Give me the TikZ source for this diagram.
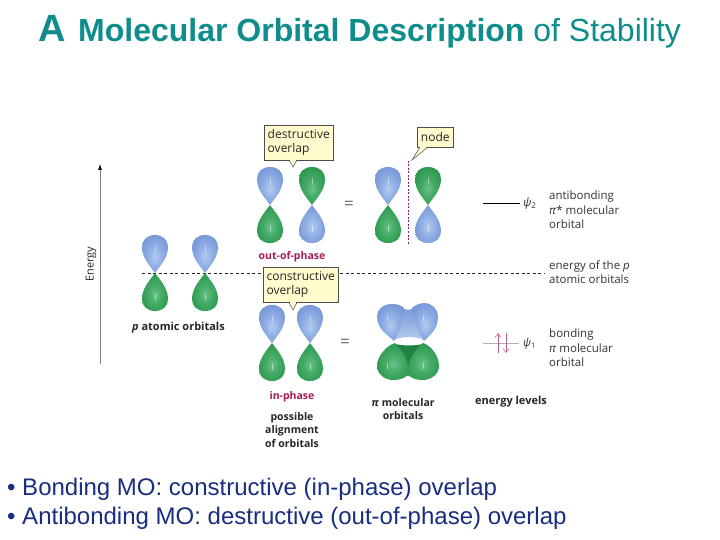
\documentclass[tikz,border=0pt]{standalone}
\usepackage{fontspec}
\setmainfont{Liberation Sans}
\newfontfamily\lab{Open Sans}
\usetikzlibrary{arrows.meta}
\definecolor{titleteal}{HTML}{0F8C8C}
\definecolor{navy}{HTML}{1A2E80}
\definecolor{maroon}{HTML}{A51C55}
\definecolor{calloutfill}{HTML}{FFFBCC}
\definecolor{bu0}{HTML}{B4CBEF}
\definecolor{bu1}{HTML}{94B2E6}
\definecolor{bu2}{HTML}{7B9BDA}
\definecolor{bu3}{HTML}{6C8ACB}
\definecolor{gr0}{HTML}{6CC28A}
\definecolor{gr1}{HTML}{45AC68}
\definecolor{gr2}{HTML}{2F9A52}
\definecolor{gr3}{HTML}{1F8040}
\pgfdeclareradialshading{bluelobe}{\pgfpoint{0bp}{-4bp}}{
 color(0bp)=(bu0); color(12bp)=(bu1); color(26bp)=(bu2); color(40bp)=(bu3); color(50bp)=(bu3)}
\pgfdeclareradialshading{greenlobe}{\pgfpoint{0bp}{-4bp}}{
 color(0bp)=(gr0); color(12bp)=(gr1); color(26bp)=(gr2); color(40bp)=(gr3); color(50bp)=(gr3)}
\tikzset{
 lbl/.style={font=\lab\fontsize{11.5}{14.5}\selectfont,align=left,text=black!80,inner sep=0pt},
 lblb/.style={font=\lab\fontsize{10.5}{13.2}\selectfont\bfseries,align=center,text=black!85,inner sep=0pt},
 callout/.style={draw=black!70,fill=calloutfill,font=\lab\fontsize{12}{14}\selectfont,align=left,inner sep=2.5pt,line width=.5pt,text=black!85},
 maroonl/.style={font=\lab\fontsize{10.5}{13}\selectfont\bfseries,text=maroon,inner sep=0pt},
 dashline/.style={dash pattern=on 3pt off 2.5pt,line width=.7pt,black!85},
 eqs/.style={inner sep=0pt,font=\lab\fontsize{17}{17}\selectfont,text=black!60},
 glint/.style={white,opacity=.45,line width=.8pt,line cap=round}
}
\newcommand\lobepth{(0,0) .. controls (-5,-7) and (-13,-15) .. (-13,-26) .. controls (-13,-33) and (-8,-38) .. (0,-38) .. controls (8,-38) and (13,-33) .. (13,-26) .. controls (13,-15) and (5,-7) .. (0,0) -- cycle}
% \lobe{x}{y}{scale}{shading}
\newcommand\lobe[4]{\begin{scope}[shift={(#1,#2)},yscale=#3]\shade[shading=#4] \lobepth;
\draw[glint] (0,-27) -- (0,-21);\end{scope}}
\begin{document}
\begin{tikzpicture}[x=1pt,y=-1pt]
\useasboundingbox (0,0) rectangle (720,540);
\fill[white] (0,0) rectangle (720,540);
% title
\node[anchor=base west,inner sep=0pt,text=titleteal] (title) at (38.5,42) {\fontsize{38}{42}\selectfont\bfseries A};
\node[anchor=base west,inner sep=0pt,text=titleteal] (title2) at (78,42) {\fontsize{32}{36}\selectfont\bfseries Molecular Orbital Description \mdseries of Stability};
% energy axis
\coordinate (ax0) at (100,364);
\coordinate (ax1) at (100,164);
\draw[black!50,line width=.6pt,-{Latex[black,length=6pt,width=4pt]}] (ax0) -- (ax1);
\node[rotate=90,font=\lab\fontsize{11}{12}\selectfont,text=black!85,inner sep=0pt] (energy) at (91,264) {Energy};
% dashed
\coordinate (d0) at (142,273.5);
\coordinate (d1) at (545,273.5);
\draw[dashline] (d0) -- (d1);
% atomic
\lobe{155}{273}{1}{bluelobe}\lobe{155}{273}{-1}{greenlobe}
\lobe{205}{273}{1}{bluelobe}\lobe{205}{273}{-1}{greenlobe}
\node[lblb,font=\lab\fontsize{11}{13}\selectfont\bfseries] (pao) at (178.5,328) {\textit{p} atomic orbitals};
% destructive
\lobe{270}{205}{1}{bluelobe}\lobe{270}{205}{-1}{greenlobe}
\lobe{312}{205}{1}{greenlobe}\lobe{312}{205}{-1}{bluelobe}
\lobe{388}{205}{1}{bluelobe}\lobe{388}{205}{-1}{greenlobe}
\lobe{428}{205}{1}{greenlobe}\lobe{428}{205}{-1}{bluelobe}
% node line
\coordinate (n0) at (408,161);
\coordinate (n1) at (408,244);
\draw[maroon,dash pattern=on 2pt off 1.5pt,line width=.7pt] (n0) -- (n1);
% callouts
\node[callout,anchor=north west,minimum width=69pt,minimum height=35pt] (dc) at (264,125) {destructive\\overlap};
\fill[calloutfill] (289,158) -- (293,167) -- (297,158) -- cycle;
\draw[black!70,line width=.5pt] (289,160) -- (293,167) -- (297,160);
\node[callout,anchor=north west,minimum width=36pt,minimum height=20pt,inner sep=1pt] (nc) at (417,127) {node};
\fill[calloutfill] (420,146) -- (412,160) -- (428,146) -- cycle;
\draw[black!70,line width=.5pt] (420,147) -- (412,160) -- (428,147);
\node[maroonl] (oop) at (292,257) {out-of-phase};
% equals
\node[eqs] (eq1) at (349,205) {=};
\node[eqs] (eq2) at (345,343.5) {=};
% constructive
\lobe{272}{343}{1}{bluelobe}\lobe{272}{343}{-1}{greenlobe}
\lobe{310}{343}{1}{bluelobe}\lobe{310}{343}{-1}{greenlobe}
\node[callout,anchor=north west,minimum width=75pt,minimum height=35pt] (cc) at (263,267) {constructive\\overlap};
\fill[calloutfill] (289,300) -- (293,310) -- (297,300) -- cycle;
\draw[black!70,line width=.5pt] (289,302.5) -- (293,310) -- (297,302.5);
\node[maroonl] (ip) at (292,397) {in-phase};
\node[lblb] (pos) at (292,430) {possible\\alignment\\of orbitals};
% bonding MO: bridges
\shade[top color=bu2,bottom color=bu0] (394,340) -- (404,309) .. controls (407,310) and (410,310) .. (412,309) -- (424,340) .. controls (415,336) and (403,336) .. (394,340) -- cycle;
\shade[top color=gr3,bottom color=gr3!80!gr1] (395,344) .. controls (405,346) and (414,346) .. (423,344) -- (430,360) -- (408,376) -- (388,360) -- cycle;
% bonding MO: lobes
\shade[shading=bluelobe] (394,341) .. controls (388,335) and (377,330) .. (377,316) .. controls (377,309) and (384,304) .. (392,304) .. controls (397,304) and (401,305) .. (404,308) .. controls (404,320) and (399,333) .. (394,341) -- cycle;
\shade[shading=bluelobe] (424,341) .. controls (430,335) and (438,330) .. (438,316) .. controls (438,309) and (431,303) .. (425,303) .. controls (420,303) and (415,305) .. (412,308) .. controls (413,320) and (419,333) .. (424,341) -- cycle;
\shade[shading=greenlobe] (395,343) .. controls (388,345) and (377,355) .. (377,366) .. controls (377,374) and (385,380) .. (393,380) .. controls (400,380) and (406,378) .. (408,374) .. controls (410,362) and (402,350) .. (395,343) -- cycle;
\shade[shading=greenlobe] (423,343) .. controls (430,345) and (439,355) .. (439,366) .. controls (439,374) and (431,380) .. (423,380) .. controls (416,380) and (410,378) .. (408,374) .. controls (406,362) and (415,350) .. (423,343) -- cycle;
\coordinate (g1) at (387,315);\coordinate (g2) at (387,321);
\coordinate (g3) at (423,315);\coordinate (g4) at (423,321);
\coordinate (g5) at (387,363);\coordinate (g6) at (387,369);
\coordinate (g7) at (423,363);\coordinate (g8) at (423,369);
\draw[glint] (g1) -- (g2);\draw[glint] (g3) -- (g4);\draw[glint] (g5) -- (g6);\draw[glint] (g7) -- (g8);
\node[lblb] (pimo) at (403,409) {\textit{π} molecular\\orbitals};
% levels
\coordinate (l0) at (483,203);
\coordinate (l1) at (520,203);
\draw[black,line width=.7pt] (l0) -- (l1);
\node[lbl,anchor=west,font=\lab\fontsize{11.5}{12}\selectfont] (psi2) at (523,204) {\textit{ψ}\textsubscript{2}};
\node[lbl,anchor=west] (ab) at (549,210) {antibonding\\\textit{π}* molecular\\orbital};
\node[lbl,anchor=west] (ep) at (549,272) {energy of the \textit{p}\\atomic orbitals};
\coordinate (b0) at (483,343);
\coordinate (b1) at (519,343);
\draw[black!30,line width=.5pt] (b0) -- (b1);
\coordinate (u0) at (498,353);\coordinate (u1) at (498,333);
\coordinate (v0) at (506,333);\coordinate (v1) at (506,353);
\draw[maroon!70,line width=.6pt,-{Straight Barb[length=4pt,width=6pt]}] (u0) -- (u1);
\draw[maroon!70,line width=.6pt,-{Straight Barb[length=4pt,width=6pt]}] (v0) -- (v1);
\node[lbl,anchor=west,font=\lab\fontsize{11}{12}\selectfont] (psi1) at (523,344) {\textit{ψ}\textsubscript{1}};
\node[lbl,anchor=west] (bo) at (549,348) {bonding\\\textit{π} molecular\\orbital};
\node[lblb,font=\lab\fontsize{11}{13}\selectfont\bfseries] (el) at (511,402) {energy levels};
% bullets
\node[anchor=base west,inner sep=0pt,text=navy,font=\fontsize{24}{28}\selectfont] (b1t) at (7,495.5) {• Bonding MO: constructive (in-phase) overlap};
\node[anchor=base west,inner sep=0pt,text=navy,font=\fontsize{24}{28}\selectfont] (b2t) at (7,524) {• Antibonding MO: destructive (out-of-phase) overlap};
\end{tikzpicture}
\end{document}
